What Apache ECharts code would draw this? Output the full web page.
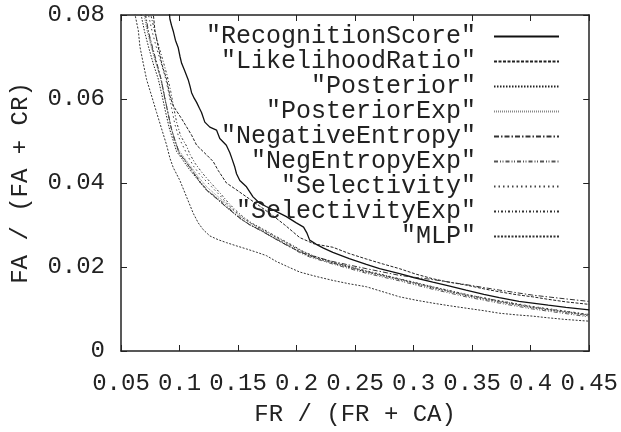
<!DOCTYPE html>
<html>
<head>
<meta charset="utf-8">
<script src="https://cdn.jsdelivr.net/npm/echarts@6/dist/echarts.min.js"></script>
<style>html,body{margin:0;padding:0;background:#fff;}#c{width:621px;height:432px;}</style>
</head>
<body>
<div id="c"></div>
<script>
const xTicks = ['0.05','0.1','0.15','0.2','0.25','0.3','0.35','0.4','0.45'];
const yTicks = ['0','0.02','0.04','0.06','0.08'];
const seriesNames = ['"RecognitionScore"','"LikelihoodRatio"','"Posterior"','"PosteriorExp"','"NegativeEntropy"','"NegEntropyExp"','"Selectivity"','"SelectivityExp"','"MLP"'];

const recognitionScore = [[0.0905,0.083],[0.0918,0.079],[0.0932,0.0775],[0.0946,0.0762],[0.0965,0.074],[0.0989,0.0722],[0.1005,0.070],[0.1018,0.0685],[0.104,0.067],[0.1074,0.0646],[0.1090,0.063],[0.1103,0.0615],[0.1125,0.0602],[0.1146,0.0592],[0.1170,0.0578],[0.1188,0.0568],[0.1216,0.0545],[0.1259,0.0533],[0.1316,0.0526],[0.1344,0.0506],[0.140,0.049],[0.1430,0.0472],[0.1444,0.0461],[0.1470,0.0440],[0.1487,0.0422],[0.1515,0.0406],[0.1572,0.0391],[0.1628,0.0367],[0.1685,0.0352],[0.1740,0.0344],[0.1799,0.0336],[0.1913,0.0320],[0.1998,0.0305],[0.2060,0.0295],[0.2090,0.0280],[0.2112,0.0264],[0.2169,0.0254],[0.2230,0.0245],[0.2310,0.0235],[0.2450,0.0220],[0.2596,0.0206],[0.2709,0.0196],[0.2880,0.0184],[0.3000,0.0175],[0.3164,0.0164],[0.3300,0.0155],[0.3448,0.0145],[0.3600,0.0135],[0.3732,0.0127],[0.3900,0.0118],[0.4017,0.0114],[0.4150,0.0109],[0.4301,0.0104],[0.4500,0.0098]];
const likelihoodRatio = [[0.0770,0.083],[0.0776,0.0802],[0.079,0.0763],[0.0818,0.0724],[0.0847,0.0685],[0.089,0.0646],[0.0918,0.0607],[0.0946,0.0584],[0.1018,0.0553],[0.1103,0.0514],[0.1146,0.049],[0.1231,0.0467],[0.1288,0.0451],[0.1330,0.0430],[0.1401,0.0400],[0.1480,0.0385],[0.1572,0.0367],[0.1685,0.0345],[0.1799,0.0322],[0.1900,0.0300],[0.2027,0.0270],[0.2150,0.0255],[0.231,0.0247],[0.2450,0.0232],[0.2596,0.0219],[0.2740,0.0207],[0.288,0.0196],[0.3020,0.0183],[0.3164,0.0172],[0.3300,0.0164],[0.3448,0.0157],[0.3600,0.0148],[0.3732,0.0141],[0.3880,0.0134],[0.4017,0.0129],[0.4150,0.0123],[0.4301,0.0117],[0.4500,0.0111]];
const posterior = [[0.0655,0.083],[0.0672,0.0800],[0.0700,0.0762],[0.0738,0.0721],[0.0780,0.0680],[0.0818,0.0648],[0.0850,0.0609],[0.0880,0.0570],[0.0912,0.0531],[0.0945,0.0502],[0.0975,0.0475],[0.1020,0.0458],[0.1080,0.0434],[0.1150,0.0410],[0.1220,0.0386],[0.1300,0.0368],[0.1380,0.0347],[0.1450,0.0331],[0.1510,0.0317],[0.1590,0.0302],[0.1680,0.0290],[0.1790,0.0272],[0.1930,0.0251],[0.2020,0.0237],[0.2110,0.0226],[0.2310,0.0209],[0.2596,0.0188],[0.2880,0.0170],[0.3164,0.0150],[0.3448,0.0132],[0.3732,0.0117],[0.4017,0.0103],[0.4301,0.0092],[0.4500,0.0084]];
const posteriorExp = [[0.0680,0.083],[0.0695,0.0805],[0.0718,0.0768],[0.0752,0.0730],[0.0795,0.0688],[0.0835,0.0652],[0.0866,0.0612],[0.0895,0.0575],[0.0925,0.0535],[0.0958,0.0505],[0.0990,0.0480],[0.1035,0.0462],[0.1095,0.0440],[0.1160,0.0415],[0.1235,0.0390],[0.1310,0.0372],[0.1395,0.0352],[0.1455,0.0336],[0.1520,0.0320],[0.1605,0.0305],[0.1690,0.0292],[0.1810,0.0273],[0.1950,0.0252],[0.2040,0.0239],[0.2130,0.0228],[0.2310,0.0212],[0.2596,0.0190],[0.2880,0.0171],[0.3164,0.0152],[0.3448,0.0133],[0.3732,0.0118],[0.4017,0.0104],[0.4301,0.0093],[0.4500,0.0085]];
const negativeEntropy = [[0.0700,0.083],[0.0712,0.0798],[0.0735,0.0760],[0.0770,0.0722],[0.0808,0.0684],[0.0845,0.0645],[0.0872,0.0605],[0.0902,0.0566],[0.0932,0.0527],[0.0965,0.0498],[0.1000,0.0470],[0.1050,0.0452],[0.1110,0.0428],[0.1175,0.0402],[0.1245,0.0379],[0.1320,0.0362],[0.1400,0.0343],[0.1465,0.0328],[0.1530,0.0313],[0.1610,0.0299],[0.1700,0.0286],[0.1810,0.0268],[0.1940,0.0248],[0.2030,0.0236],[0.2120,0.0227],[0.2310,0.0213],[0.2596,0.0196],[0.2880,0.0180],[0.3164,0.0170],[0.3448,0.0158],[0.3732,0.0145],[0.4017,0.0133],[0.4301,0.0124],[0.4500,0.0118]];
const negEntropyExp = [[0.0690,0.083],[0.0705,0.0802],[0.0728,0.0765],[0.0762,0.0726],[0.0800,0.0686],[0.0840,0.0650],[0.0870,0.0610],[0.0898,0.0572],[0.0928,0.0532],[0.0960,0.0500],[0.0995,0.0472],[0.1045,0.0455],[0.1105,0.0432],[0.1170,0.0406],[0.1240,0.0382],[0.1315,0.0366],[0.1405,0.0346],[0.1460,0.0330],[0.1525,0.0316],[0.1600,0.0300],[0.1685,0.0288],[0.1800,0.0270],[0.1940,0.0249],[0.2027,0.0234],[0.2110,0.0224],[0.2310,0.0207],[0.2596,0.0185],[0.2880,0.0167],[0.3164,0.0147],[0.3448,0.0129],[0.3732,0.0114],[0.4017,0.0100],[0.4301,0.0089],[0.4500,0.0081]];
const selectivity = [[0.0720,0.083],[0.0735,0.0800],[0.0765,0.0762],[0.0800,0.0725],[0.0840,0.0688],[0.0880,0.0650],[0.0910,0.0612],[0.0935,0.0575],[0.0960,0.0540],[0.0995,0.0508],[0.1040,0.0482],[0.1075,0.0462],[0.1120,0.0440],[0.1180,0.0418],[0.1260,0.0395],[0.1340,0.0372],[0.1410,0.0350],[0.1470,0.0334],[0.1535,0.0318],[0.1615,0.0303],[0.1700,0.0290],[0.1820,0.0271],[0.1960,0.0250],[0.2040,0.0237],[0.2130,0.0226],[0.2310,0.0210],[0.2596,0.0189],[0.2880,0.0171],[0.3164,0.0152],[0.3448,0.0134],[0.3732,0.0120],[0.4017,0.0106],[0.4301,0.0095],[0.4500,0.0087]];
const selectivityExp = [[0.0740,0.083],[0.0755,0.0800],[0.0785,0.0765],[0.0820,0.0728],[0.0860,0.0690],[0.0895,0.0655],[0.0925,0.0618],[0.0950,0.0580],[0.0975,0.0545],[0.1010,0.0512],[0.1060,0.0488],[0.1090,0.0468],[0.1135,0.0446],[0.1200,0.0422],[0.1275,0.0398],[0.1350,0.0375],[0.1420,0.0352],[0.1480,0.0335],[0.1545,0.0319],[0.1620,0.0304],[0.1710,0.0291],[0.1830,0.0272],[0.1970,0.0251],[0.2050,0.0238],[0.2140,0.0227],[0.2310,0.0211],[0.2596,0.0191],[0.2880,0.0172],[0.3164,0.0153],[0.3448,0.0135],[0.3732,0.0119],[0.4017,0.0105],[0.4301,0.0094],[0.4500,0.0086]];
const mlp = [[0.0605,0.083],[0.0619,0.0802],[0.0648,0.0763],[0.0662,0.0724],[0.069,0.0685],[0.0719,0.0646],[0.0762,0.0607],[0.0804,0.0568],[0.0847,0.0529],[0.089,0.049],[0.0918,0.0459],[0.0946,0.0437],[0.1003,0.0406],[0.106,0.0367],[0.1117,0.0328],[0.1160,0.0305],[0.1202,0.0289],[0.1259,0.0274],[0.1330,0.0265],[0.1401,0.0258],[0.1490,0.0250],[0.1572,0.0243],[0.1660,0.0235],[0.1743,0.0227],[0.1828,0.0213],[0.1930,0.0200],[0.2027,0.0188],[0.2160,0.0178],[0.231,0.0168],[0.2450,0.0160],[0.2596,0.0153],[0.2750,0.0140],[0.288,0.0129],[0.3020,0.0121],[0.3164,0.0114],[0.3300,0.0108],[0.3448,0.0102],[0.3600,0.0096],[0.3732,0.0090],[0.3880,0.0086],[0.4017,0.0083],[0.4150,0.0079],[0.4301,0.0075],[0.4500,0.0071]];

const seriesData = [recognitionScore, likelihoodRatio, posterior, posteriorExp, negativeEntropy, negEntropyExp, selectivity, selectivityExp, mlp];
const styles = [
  {color:'#111', width:1.3, type:'solid'},
  {color:'#222', width:1, type:[3,1.5]},
  {color:'#222', width:1, type:[1.5,1.5]},
  {color:'#888', width:1, type:[1,1]},
  {color:'#333', width:1, type:[5,2,1.5,2]},
  {color:'#555', width:1, type:[4,2,1,1.5,1,2]},
  {color:'#444', width:1, type:[1.5,3]},
  {color:'#333', width:1, type:[2,2,1,2]},
  {color:'#333', width:1, type:[2,1.5]}
];

const FONT = 'Liberation Mono';
const chart = echarts.init(document.getElementById('c'), null, {renderer:'canvas'});
const axisCommon = {
  type:'value',
  axisLine:{show:true, onZero:false, lineStyle:{color:'#222', width:1.5}},
  axisTick:{show:true, inside:true, length:6, lineStyle:{color:'#222', width:1}},
  splitLine:{show:false}
};
chart.setOption({
  animation:false,
  backgroundColor:'#fff',
  grid:{left:121, right:31, top:15, bottom:75, containLabel:false},
  legend:{
    orient:'vertical', right:61, top:24, padding:0, itemGap:0,
    align:'right', itemWidth:65, itemHeight:12,
    data: seriesNames,
    itemStyle:{opacity:0},
    textStyle:{fontFamily:FONT, fontSize:25, color:'#222', lineHeight:24.5, width:300, align:'right', padding:[0,13,0,0]}
  },
  xAxis:[
    Object.assign({}, axisCommon, {position:'bottom', min:0.05, max:0.45, interval:0.05,
      name:'FR / (FR + CA)', nameLocation:'middle', nameGap:52,
      nameTextStyle:{fontFamily:FONT, fontSize:24, color:'#222'},
      axisLabel:{fontFamily:FONT, fontSize:24, color:'#222', margin:21,
        formatter:(v)=>{const i=Math.round((v-0.05)/0.05); return xTicks[i]!==undefined?xTicks[i]:'';}}}),
    Object.assign({}, axisCommon, {position:'top', min:0.05, max:0.45, interval:0.05, axisLabel:{show:false}})
  ],
  yAxis:[
    Object.assign({}, axisCommon, {position:'left', min:0, max:0.08, interval:0.02,
      name:'FA / (FA + CR)', nameLocation:'middle', nameGap:88, nameRotate:90,
      nameTextStyle:{fontFamily:FONT, fontSize:24, color:'#222'},
      axisLabel:{fontFamily:FONT, fontSize:24, color:'#222', margin:16, padding:[6,0,0,0],
        formatter:(v)=>{const i=Math.round(v/0.02); return yTicks[i]!==undefined?yTicks[i]:'';}}}),
    Object.assign({}, axisCommon, {position:'right', min:0, max:0.08, interval:0.02, axisLabel:{show:false}})
  ],
  series: seriesNames.map((n,i)=>({
    name:n, type:'line', data:seriesData[i], showSymbol:false, symbol:'none',
    clip:true, xAxisIndex:0, yAxisIndex:0,
    lineStyle:{color:styles[i].color, width:styles[i].width, type:styles[i].type},
    itemStyle:{color:styles[i].color},
    emphasis:{disabled:true}
  }))
});
</script>
</body>
</html>
